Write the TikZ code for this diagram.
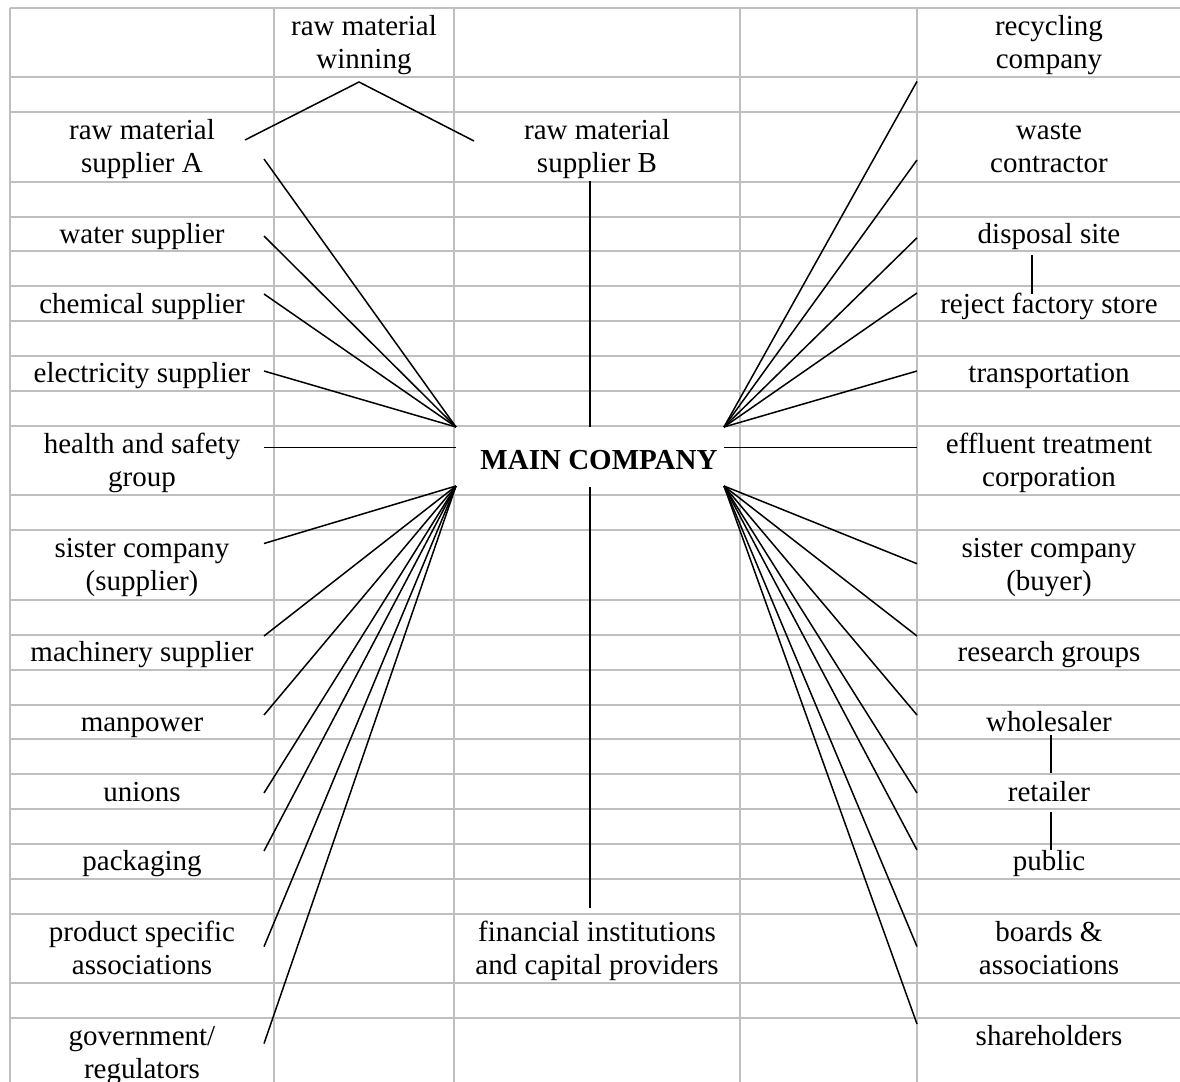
\documentclass[tikz,border=0pt]{standalone}
\usepackage{fontspec}
\setmainfont{Liberation Serif}
\begin{document}
\begin{tikzpicture}[x=0.5pt,y=-0.5pt,
  gridline/.style={draw=black!25, line width=1pt},
  link/.style={draw=black, line width=0.75pt},
  lbl/.style={align=center, inner sep=0pt, yshift=-1.4pt, font=\fontsize{14.5}{16.5}\selectfont},
]
\useasboundingbox (0,0) rectangle (1180,1082);

% table grid
\foreach \k in {0,2,3,5,6,...,12,14,15,17,18,...,26,28,29}
  \draw[gridline] (10,{7.5+34.85*\k}) -- (1180,{7.5+34.85*\k});
\foreach \x in {10,274,454,740,917}
  \draw[gridline] (\x,7.5) -- (\x,1082);

% left column
\node[lbl] (supA)   at (142,146.9) {\strut raw material\\\strut supplier A};
\node[lbl] (water)  at (142,234.1) {\strut water supplier};
\node[lbl] (chem)   at (142,303.8) {\strut chemical supplier};
\node[lbl] (elec)   at (142,373.5) {\strut electricity supplier};
\node[lbl] (health) at (142,460.6) {\strut health and safety\\\strut group};
\node[lbl] (sisS)   at (142,565)   {\strut sister company\\\strut (supplier)};
\node[lbl] (mach)   at (142,652.4) {\strut machinery supplier};
\node[lbl] (manp)   at (142,722)   {\strut manpower};
\node[lbl] (unions) at (142,791.7) {\strut unions};
\node[lbl] (pack)   at (142,861.4) {\strut packaging};
\node[lbl] (prod)   at (142,948.5) {\strut product specific\\\strut associations};
\node[lbl] (gov)    at (142,1053)  {\strut government/\\\strut regulators};

% middle columns
\node[lbl] (rmw)  at (364,42.35) {\strut raw material\\\strut winning};
\node[lbl] (supB) at (597,146.9) {\strut raw material\\\strut supplier B};
\node[lbl,font=\fontsize{14.5}{16.5}\selectfont\bfseries] (main) at (599,459.6) {\strut MAIN COMPANY};
\node[lbl] (fin)  at (597,948.5) {\strut financial institutions\\\strut and capital providers};

% right column
\node[lbl] (recyc)    at (1049,42.35) {\strut recycling\\\strut company};
\node[lbl] (waste)    at (1049,146.9) {\strut waste\\\strut contractor};
\node[lbl] (disp)     at (1049,234.1) {\strut disposal site};
\node[lbl] (reject)   at (1049,303.8) {\strut reject factory store};
\node[lbl] (trans)    at (1049,373.5) {\strut transportation};
\node[lbl] (effl)     at (1049,460.6) {\strut effluent treatment\\\strut corporation};
\node[lbl] (sisB)     at (1049,565)   {\strut sister company\\\strut (buyer)};
\node[lbl] (research) at (1049,652.4) {\strut research groups};
\node[lbl] (whole)    at (1049,722)   {\strut wholesaler};
\node[lbl] (retail)   at (1049,791.7) {\strut retailer};
\node[lbl] (public)   at (1049,861.4) {\strut public};
\node[lbl] (boards)   at (1049,948.5) {\strut boards \&\\\strut associations};
\node[lbl] (share)    at (1049,1036.5) {\strut shareholders};

% connector hubs around the main company
\coordinate (hubNW) at (456,427);
\coordinate (hubSW) at (456,486);
\coordinate (hubNE) at (724,427);
\coordinate (hubSE) at (724,486);

% connector ends beside the labels
\foreach \n/\yy in {supA/159,water/236,chem/294,elec/371,health/447.6,sisS/543.5,
                    mach/636,manp/715,unions/793,pack/851,prod/946.6,gov/1043.6}
  \coordinate (\n-e) at (264,\yy);
\foreach \n/\yy in {recyc/81.4,waste/160,disp/237.8,reject/293,trans/371,effl/447.6,
                    sisB/563.7,research/636,whole/715,retail/793,public/850,boards/946.6,share/1024}
  \coordinate (\n-e) at (917,\yy);
\coordinate (rmw-top) at (359,82);
\coordinate (rmw-l) at (245,140);
\coordinate (rmw-r) at (474,141);
\coordinate (supB-b) at (590,181);
\coordinate (fin-t) at (590,908);
\coordinate (main-n) at (590,427);
\coordinate (main-s) at (590,487);
\coordinate (health-hub) at (456,447.6);
\coordinate (effl-hub) at (724,447.6);

% raw material winning feeds both suppliers
\draw[link] (rmw-l) -- (rmw-top) -- (rmw-r);

% suppliers and stakeholders on the left
\foreach \n in {supA,water,chem,elec}
  \draw[link] (\n-e) -- (hubNW);
\draw[link] (health-e) -- (health-hub);
\foreach \n in {sisS,mach,manp,unions,pack,prod,gov}
  \draw[link] (\n-e) -- (hubSW);

% centre column
\draw[link] (supB-b) -- (main-n);
\draw[link] (main-s) -- (fin-t);

% outputs and stakeholders on the right
\foreach \n in {recyc,waste,disp,reject,trans}
  \draw[link] (hubNE) -- (\n-e);
\draw[link] (effl-hub) -- (effl-e);
\foreach \n in {sisB,research,whole,retail,public,boards,share}
  \draw[link] (hubSE) -- (\n-e);

% chains within the right column
\draw[link] (1032,255) coordinate (disp-b) -- (1032,294) coordinate (reject-t);
\draw[link] (1051,735) coordinate (whole-b) -- (1051,773) coordinate (retail-t);
\draw[link] (1051,812) coordinate (retail-b) -- (1051,850) coordinate (public-t);
\end{tikzpicture}
\end{document}
